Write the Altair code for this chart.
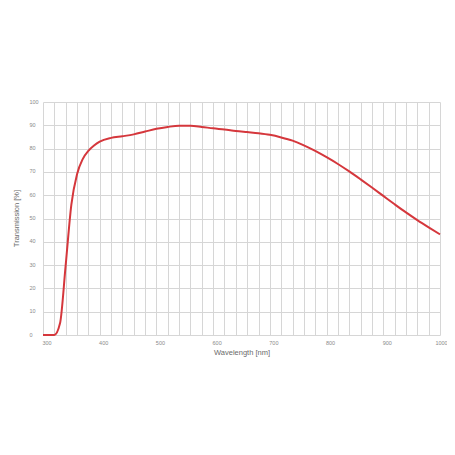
import pandas as pd
import altair as alt

wavelength = [300, 310, 320, 330, 340, 350, 360, 370, 380, 390, 400, 420, 440, 460, 480,
              500, 520, 540, 560, 580, 600, 620, 640, 660, 680, 700, 720, 740, 760, 780,
              800, 820, 840, 860, 880, 900, 920, 940, 960, 980, 1000]
transmission = [0, 0, 0, 5, 30, 56, 69, 75.5, 79, 81.3, 83, 84.6, 85.3, 86.1, 87.3,
                88.5, 89.3, 89.8, 89.8, 89.3, 88.7, 88.2, 87.6, 87.1, 86.6, 85.9, 84.8, 83.4, 81.4, 79,
                76.3, 73.4, 70.2, 66.8, 63.3, 59.7, 56.1, 52.6, 49.3, 46.2, 43.2]
x_grid = list(range(300, 1001, 20))
y_ticks = list(range(0, 101, 10))

df = pd.DataFrame({"nm": wavelength, "pct": transmission})

chart = alt.Chart(df).mark_line(
    color="#d5373c", strokeWidth=2, interpolate="monotone"
).encode(
    x=alt.X("nm:Q").scale(domain=[300, 1000], nice=False, zero=False).axis(
        values=x_grid, format="d",
        labelExpr="datum.value % 100 === 0 ? datum.label : ''",
        title="Wavelength [nm]",
        labelAlign="center",
        labelOffset={"condition": {"test": "datum.value === 1000", "value": 1}, "value": 3.5},
        labelPadding=5, labelBaseline="top",
        titleY=17, titleBaseline="middle", titleAnchor="middle",
        ticks=False, tickSize=0, domain=False, labelFlush=False,
    ),
    y=alt.Y("pct:Q").scale(domain=[0, 100], nice=False).axis(
        values=y_ticks,
        title="Transmission [%]",
        labelAlign="left", labelPadding=14, labelBaseline="middle", labelOffset=-1,
        titleX=-27, titleY=116, titleAngle=-90, titleBaseline="middle", titleAlign="center",
        ticks=False, tickSize=0, domain=False,
    ),
).properties(
    width=397, height=233,
    autosize=alt.AutoSizeParams(type="none"),
    padding={"left": 35, "top": 94, "right": 7, "bottom": 112},
).configure_axis(
    gridColor="#d6d6d6", gridWidth=1,
    labelFont="Liberation Sans", labelFontSize=5.5, labelColor="#8a8a8a",
    titleFont="Liberation Sans", titleFontSize=7.5, titleColor="#6a6a6a", titleFontWeight="normal",
).configure_view(stroke=None)

chart.save("out.html", embed_options={"renderer": "svg", "actions": False})
